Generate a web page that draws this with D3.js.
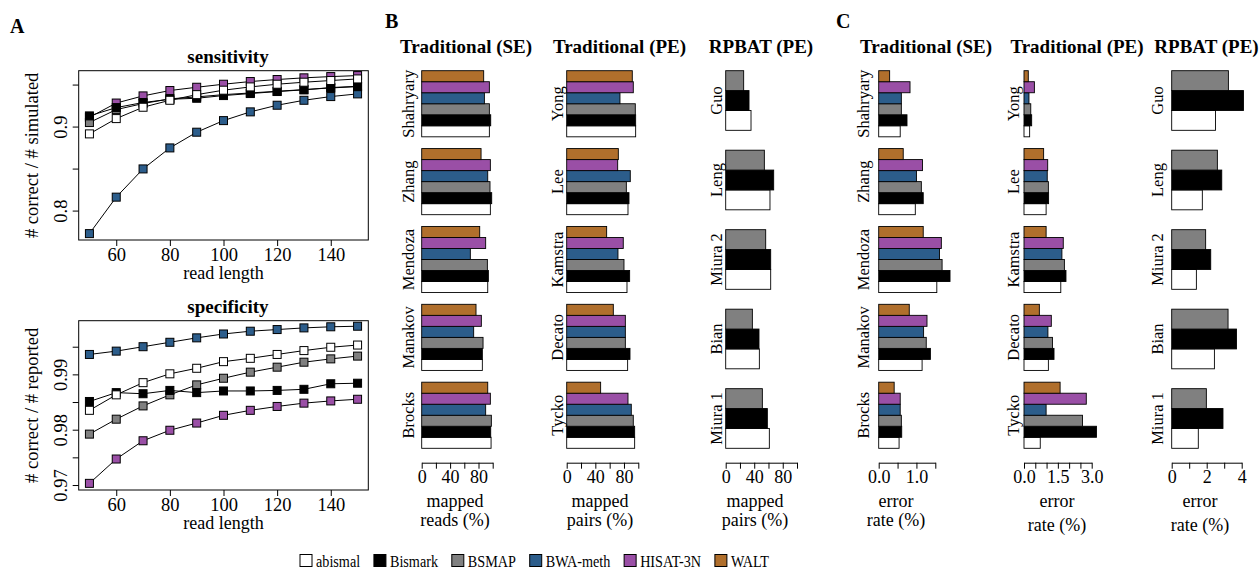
<!DOCTYPE html>
<html>
<head>
<meta charset="utf-8">
<script src="https://cdn.jsdelivr.net/npm/d3@7"></script>
<style>
body { margin: 0; background: #fff; }
svg text { font-family: "Liberation Serif", "Times New Roman", serif; fill: #000; }
</style>
</head>
<body>
<svg id="fig" width="1260" height="572"></svg>
<script>
// ---- data ----
const methods = ['abismal', 'Bismark', 'BSMAP', 'BWA-meth', 'HISAT-3N', 'WALT'];
const rpbatMethods = ['abismal', 'Bismark', 'BSMAP'];

const readLengths = [50, 60, 70, 80, 90, 100, 110, 120, 130, 140, 150];

const sensAbismal = [0.8913, 0.9095, 0.9230, 0.9313, 0.9380, 0.9433, 0.9472, 0.9504, 0.9528, 0.9548, 0.9567];
const sensBismark = [0.9127, 0.9226, 0.9286, 0.9325, 0.9337, 0.9369, 0.9393, 0.9417, 0.9437, 0.9464, 0.9480];
const sensBSMAP   = [0.9048, 0.9202, 0.9274, 0.9330, 0.9353, 0.9380, 0.9400, 0.9420, 0.9440, 0.9460, 0.9475];
const sensBWA     = [0.7726, 0.8160, 0.8496, 0.8746, 0.8933, 0.9071, 0.9175, 0.9254, 0.9313, 0.9357, 0.9389];
const sensHISAT   = [0.9110, 0.9280, 0.9365, 0.9429, 0.9468, 0.9504, 0.9536, 0.9560, 0.9580, 0.9595, 0.9607];

const specAbismal = [0.9835, 0.9863, 0.9885, 0.9901, 0.9911, 0.9923, 0.9929, 0.9936, 0.9943, 0.9949, 0.9953];
const specBismark = [0.9851, 0.9867, 0.9865, 0.9871, 0.9867, 0.9870, 0.9870, 0.9871, 0.9873, 0.9883, 0.9884];
const specBSMAP   = [0.9792, 0.9819, 0.9843, 0.9863, 0.9881, 0.9893, 0.9904, 0.9913, 0.9922, 0.9928, 0.9933];
const specBWA     = [0.9936, 0.9942, 0.9950, 0.9958, 0.9966, 0.9973, 0.9978, 0.9981, 0.9984, 0.9986, 0.9987];
const specHISAT   = [0.9703, 0.9747, 0.9780, 0.9799, 0.9812, 0.9826, 0.9835, 0.9842, 0.9848, 0.9852, 0.9855];

const seDatasets = ['Shahryary', 'Zhang', 'Mendoza', 'Manakov', 'Brocks'];
const peDatasets = ['Yong', 'Lee', 'Kamstra', 'Decato', 'Tycko'];
const rpbatDatasets = ['Guo', 'Leng', 'Miura 2', 'Bian', 'Miura 1'];

// rows follow the dataset order, columns follow the method order
const mappedSE = [
    [95.3, 97.2, 95.3, 88.3, 95.3, 87.3],
    [96.7, 98.6, 96.2, 93.0, 96.7, 83.6],
    [93.0, 93.9, 92.5, 68.5, 90.1, 81.7],
    [85.4, 85.4, 86.4, 73.2, 84.0, 76.5],
    [97.7, 97.2, 98.1, 90.1, 96.7, 93.0]
];
const mappedPE = [
    [96.3, 96.3, 95.8, 74.4, 93.0, 91.6],
    [85.6, 87.0, 83.3, 88.8, 71.2, 72.1],
    [84.2, 87.9, 80.0, 71.6, 79.0, 55.8],
    [85.1, 88.4, 81.9, 81.9, 81.9, 65.1],
    [94.9, 94.9, 93.0, 90.2, 85.6, 47.4]
];
const mappedRPBAT = [
    [35.5, 32.7, 25.2],
    [62.1, 67.3, 54.2],
    [63.1, 63.1, 56.1],
    [47.2, 46.7, 37.4],
    [61.2, 58.4, 51.4]
];
const errorSE = [
    [0.57, 0.75, 0.60, 0.60, 0.83, 0.29],
    [0.97, 1.18, 1.13, 1.00, 1.16, 0.65],
    [1.54, 1.89, 1.68, 1.61, 1.66, 1.18],
    [1.15, 1.37, 1.26, 1.19, 1.28, 0.81],
    [0.54, 0.61, 0.60, 0.57, 0.57, 0.41]
];
const errorPE = [
    [0.25, 0.34, 0.30, 0.22, 0.46, 0.19],
    [0.98, 1.09, 1.08, 1.03, 1.05, 0.87],
    [1.63, 1.86, 1.79, 1.68, 1.74, 0.98],
    [1.08, 1.33, 1.26, 1.06, 1.21, 0.68],
    [0.72, 3.21, 2.59, 0.98, 2.76, 1.60]
];
const errorRPBAT = [
    [2.50, 4.10, 3.24],
    [1.75, 2.86, 2.61],
    [1.41, 2.23, 1.94],
    [2.44, 3.70, 3.22],
    [1.52, 2.93, 1.98]
];

const colors = {
    'abismal': '#ffffff',
    'Bismark': '#000000',
    'BSMAP': '#808080',
    'BWA-meth': '#2c5d8b',
    'HISAT-3N': '#9a4fa6',
    'WALT': '#b06f2c'
};

let svg = d3.select('#fig');

// ---- panel A: line plots ----
function linePanel(p) {
    let x = d3.scaleLinear().domain([46, 154]).range([78.7, 368.3]),
        y = d3.scaleLinear().domain(p.domain).range([p.bottom, p.top]);

    let g = svg.append('g');

    g.append('text')
        .attr('x', 228).attr('y', p.top - 8)
        .attr('text-anchor', 'middle')
        .attr('font-weight', 'bold')
        .attr('font-size', 19)
        .text(p.title);

    let line = d3.line()
        .x((d, i) => x(readLengths[i]))
        .y(d => y(d));

    p.series.forEach(s => {
        g.append('path')
            .datum(s[1])
            .attr('d', line)
            .attr('fill', 'none')
            .attr('stroke', '#000')
            .attr('stroke-width', 1);
        g.selectAll(null)
            .data(s[1])
            .enter()
            .append('rect')
            .attr('x', (d, i) => x(readLengths[i]) - 4)
            .attr('y', d => y(d) - 4)
            .attr('width', 8)
            .attr('height', 8)
            .attr('fill', colors[s[0]])
            .attr('stroke', '#000')
            .attr('stroke-width', 1);
    });

    g.append('rect')
        .attr('x', 78.7).attr('y', p.top)
        .attr('width', 368.3 - 78.7).attr('height', p.bottom - p.top)
        .attr('fill', 'none').attr('stroke', '#000').attr('stroke-width', 1);

    let xa = g.append('g')
        .attr('transform', 'translate(0,' + p.bottom + ')')
        .call(d3.axisBottom(x).tickValues([60, 80, 100, 120, 140]).tickSize(6).tickPadding(1.5));
    xa.attr('font-size', 18.5);
    xa.select('.domain').remove();

    let ya = g.append('g')
        .attr('transform', 'translate(78.7,0)')
        .call(d3.axisLeft(y).tickValues(p.ticks)
            .tickFormat(d => p.labels.includes(d) ? String(d) : '')
            .tickSize(6));
    ya.attr('font-size', 18.5);
    ya.select('.domain').remove();
    ya.selectAll('.tick text')
        .attr('transform', 'rotate(-90)')
        .attr('x', 0).attr('y', -12).attr('dy', 0)
        .attr('text-anchor', 'middle');

    g.append('text')
        .attr('x', 223.5).attr('y', p.bottom + 39)
        .attr('text-anchor', 'middle')
        .attr('font-size', 18)
        .text('read length');

    g.append('text')
        .attr('transform', 'translate(38,' + (p.top + p.bottom) / 2 + ') rotate(-90)')
        .attr('text-anchor', 'middle')
        .attr('font-size', 18.5)
        .text(p.ylab);
}

linePanel({
    title: 'sensitivity', ylab: '# correct / # simulated',
    top: 70.7, bottom: 240, domain: [0.765, 0.9665],
    ticks: [0.8, 0.85, 0.9, 0.95], labels: [0.8, 0.9],
    series: [['HISAT-3N', sensHISAT], ['BWA-meth', sensBWA], ['BSMAP', sensBSMAP],
             ['Bismark', sensBismark], ['abismal', sensAbismal]]
});

linePanel({
    title: 'specificity', ylab: '# correct / # reported',
    top: 320.7, bottom: 490, domain: [0.9691, 0.9997],
    ticks: [0.97, 0.975, 0.98, 0.985, 0.99, 0.995], labels: [0.97, 0.98, 0.99],
    series: [['HISAT-3N', specHISAT], ['BWA-meth', specBWA], ['BSMAP', specBSMAP],
             ['Bismark', specBismark], ['abismal', specAbismal]]
});

// ---- panels B and C: horizontal bars ----
function barPanel(p) {
    let x = d3.scaleLinear().domain([0, p.max]).range([p.x0, p.x1]),
        y = d3.scaleBand().domain(p.datasets).range([70.7, 448.3]).paddingInner(p.pad),
        inner = d3.scaleBand().domain(p.methods.slice().reverse()).range([0, y.bandwidth()]);

    let g = svg.append('g');

    g.append('text')
        .attr('x', p.titleX).attr('y', 53)
        .attr('text-anchor', 'middle')
        .attr('font-weight', 'bold')
        .attr('font-size', 19)
        .text(p.title);

    p.datasets.forEach((ds, i) => {
        g.selectAll(null)
            .data(p.methods.map((m, j) => ({m: m, v: p.values[i][j]})))
            .enter()
            .append('rect')
            .attr('x', x(0))
            .attr('y', d => y(ds) + inner(d.m))
            .attr('width', d => x(d.v) - x(0))
            .attr('height', inner.bandwidth())
            .attr('fill', d => colors[d.m])
            .attr('stroke', '#000')
            .attr('stroke-width', 0.9);

        g.append('text')
            .attr('transform', 'translate(' + p.labelX + ',' + (y(ds) + y.bandwidth() / 2) + ') rotate(-90)')
            .attr('text-anchor', 'middle')
            .attr('font-size', 16.5)
            .text(ds);
    });

    let xa = g.append('g')
        .attr('transform', 'translate(0,462.7)')
        .call(d3.axisBottom(x).tickValues(p.ticks)
            .tickFormat(d => p.labels.includes(d) ? p.fmt(d) : '')
            .tickSize(6).tickSizeOuter(0).tickPadding(1.5));
    xa.attr('font-size', 18);
    xa.select('.domain').attr('stroke', '#000');

    g.append('text')
        .attr('x', p.xlabX).attr('y', 507)
        .attr('text-anchor', 'middle').attr('font-size', 18)
        .text(p.xlab[0]);
    g.append('text')
        .attr('x', p.xlabX).attr('y', p.xlab2Y)
        .attr('text-anchor', 'middle').attr('font-size', 18)
        .text(p.xlab[1]);
}

let fmt0 = d3.format('d'), fmt1 = d3.format('.1f');

barPanel({title: 'Traditional (SE)', titleX: 466, datasets: seDatasets, methods: methods,
    values: mappedSE, max: 100, x0: 421.7, x1: 492.7, pad: 0.151, labelX: 414,
    ticks: [0, 20, 40, 60, 80, 100], labels: [0, 40, 80], fmt: fmt0,
    xlab: ['mapped', 'reads (%)'], xlabX: 455, xlab2Y: 526});
barPanel({title: 'Traditional (PE)', titleX: 619.5, datasets: peDatasets, methods: methods,
    values: mappedPE, max: 100, x0: 566.7, x1: 638.3, pad: 0.151, labelX: 562.5,
    ticks: [0, 20, 40, 60, 80, 100], labels: [0, 40, 80], fmt: fmt0,
    xlab: ['mapped', 'pairs (%)'], xlabX: 600, xlab2Y: 526});
barPanel({title: 'RPBAT (PE)', titleX: 761, datasets: rpbatDatasets, methods: rpbatMethods,
    values: mappedRPBAT, max: 100, x0: 725.7, x1: 797, pad: 0.25, labelX: 721.5,
    ticks: [0, 20, 40, 60, 80, 100], labels: [0, 40, 80], fmt: fmt0,
    xlab: ['mapped', 'pairs (%)'], xlabX: 755, xlab2Y: 526});
barPanel({title: 'Traditional (SE)', titleX: 926, datasets: seDatasets, methods: methods,
    values: errorSE, max: 1.5, x0: 878.7, x1: 935.3, pad: 0.151, labelX: 868.5,
    ticks: [0, 0.5, 1, 1.5], labels: [0, 1], fmt: fmt1,
    xlab: ['error', 'rate (%)'], xlabX: 896, xlab2Y: 526});
barPanel({title: 'Traditional (PE)', titleX: 1077, datasets: peDatasets, methods: methods,
    values: errorPE, max: 3, x0: 1024, x1: 1091.7, pad: 0.151, labelX: 1019.3,
    ticks: [0, 0.5, 1, 1.5, 2, 2.5, 3], labels: [0, 1.5, 3], fmt: fmt1,
    xlab: ['error', 'rate (%)'], xlabX: 1057, xlab2Y: 530.5});
barPanel({title: 'RPBAT (PE)', titleX: 1206.5, datasets: rpbatDatasets, methods: rpbatMethods,
    values: errorRPBAT, max: 4, x0: 1171.7, x1: 1241.7, pad: 0.25, labelX: 1163.3,
    ticks: [0, 1, 2, 3, 4], labels: [0, 2, 4], fmt: fmt0,
    xlab: ['error', 'rate (%)'], xlabX: 1200, xlab2Y: 530.5});

// ---- panel letters ----
[['A', 10, 33], ['B', 385, 28], ['C', 836, 28]].forEach(l => {
    svg.append('text')
        .attr('x', l[1]).attr('y', l[2])
        .attr('font-weight', 'bold')
        .attr('font-size', 20)
        .text(l[0]);
});

// ---- legend: spread between x = 300 and x = 769, narrow letters ----
let legend = svg.append('g');
let items = methods.map(m => {
    let item = legend.append('g');
    item.append('rect')
        .attr('y', 554.5)
        .attr('width', 12).attr('height', 12)
        .attr('fill', colors[m]).attr('stroke', '#000').attr('stroke-width', 1);
    let t = item.append('text')
        .attr('y', 567)
        .attr('font-size', 16.5)
        .text(m);
    let w = t.node().getComputedTextLength() * 0.86;
    t.attr('textLength', w).attr('lengthAdjust', 'spacingAndGlyphs');
    return {item: item, w: w};
});
let totalW = d3.sum(items, d => 16 + d.w),
    gap = (769 - 300 - totalW) / (items.length - 1),
    lx = 300;
items.forEach(d => {
    d.item.select('rect').attr('x', lx);
    d.item.select('text').attr('x', lx + 16);
    lx += 16 + d.w + gap;
});
</script>
</body>
</html>
